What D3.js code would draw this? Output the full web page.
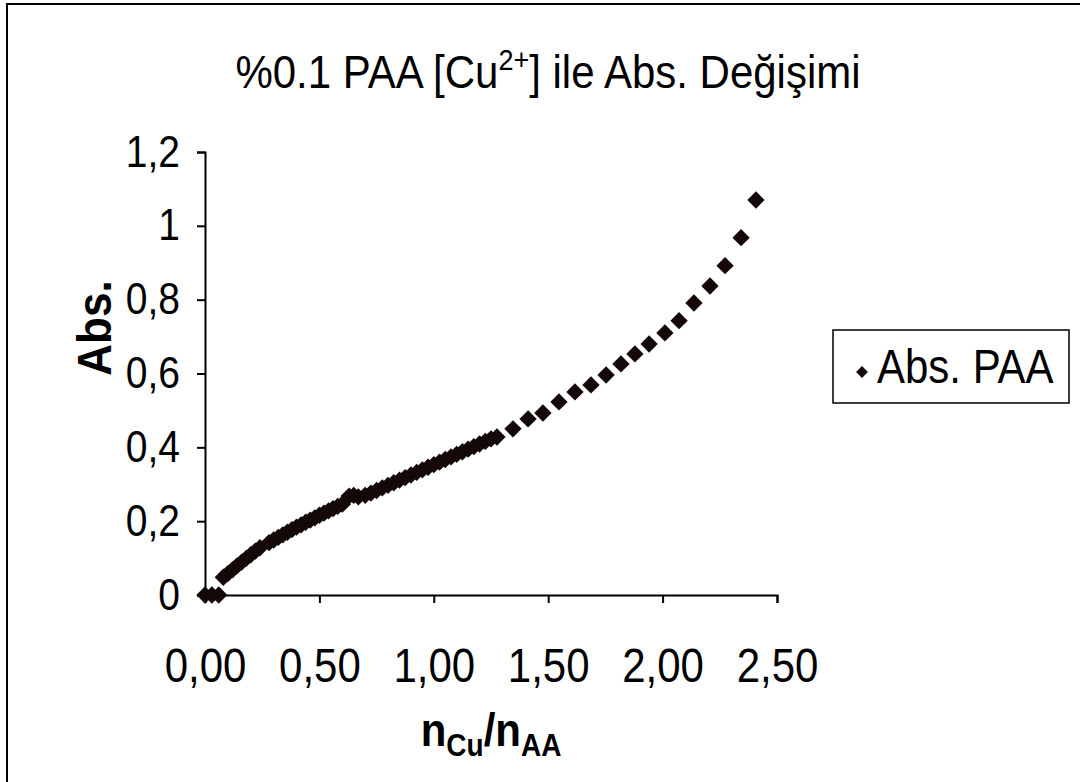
<!DOCTYPE html>
<html>
<head>
<meta charset="utf-8">
<script src="https://cdn.jsdelivr.net/npm/d3@7"></script>
<style>
  body { margin: 0; background: #fff; }
  text { font-family: Arial, "Liberation Sans", sans-serif; fill: #000; }
</style>
</head>
<body>
<div id="chart"></div>
<script>
// data (n_Cu/n_AA vs absorbance)
var ratio = [0, 0.03, 0.06,
  0.08, 0.10, 0.12, 0.14, 0.16, 0.18, 0.20, 0.22, 0.24,
  0.28, 0.30, 0.32, 0.34, 0.36, 0.38, 0.40, 0.42, 0.44, 0.46, 0.48, 0.50, 0.52, 0.54, 0.56, 0.58, 0.60,
  0.63, 0.65, 0.67, 0.70,
  0.725, 0.75, 0.775, 0.80, 0.825, 0.85, 0.875, 0.90, 0.925, 0.95, 0.975, 1.00, 1.025, 1.05, 1.075, 1.10, 1.125, 1.15, 1.175, 1.20, 1.225, 1.25,
  1.276, 1.346, 1.412, 1.477, 1.547, 1.617, 1.687, 1.753, 1.818, 1.879, 1.941, 2.010, 2.072, 2.137, 2.207, 2.273, 2.343, 2.408];
var absPAA = [0, 0, 0,
  0.048, 0.058, 0.068, 0.079, 0.089, 0.099, 0.109, 0.119, 0.128,
  0.142, 0.149, 0.156, 0.163, 0.170, 0.177, 0.184, 0.190, 0.197, 0.203, 0.209, 0.216, 0.222, 0.228, 0.234, 0.240, 0.246,
  0.268, 0.270, 0.266, 0.270,
  0.276, 0.283, 0.290, 0.297, 0.304, 0.311, 0.318, 0.325, 0.332, 0.339, 0.346, 0.353, 0.360, 0.367, 0.374, 0.381, 0.388, 0.395, 0.402, 0.409, 0.416, 0.423,
  0.428, 0.450, 0.477, 0.493, 0.523, 0.550, 0.569, 0.596, 0.626, 0.653, 0.680, 0.710, 0.743, 0.791, 0.837, 0.892, 0.968, 1.070];
var xTicks = [0, 0.5, 1, 1.5, 2, 2.5];
var yTicks = [0, 0.2, 0.4, 0.6, 0.8, 1, 1.2];
var seriesName = "Abs. PAA";

var W = 1080, H = 782;
var svg = d3.select("#chart").append("svg")
  .attr("width", W).attr("height", H);

// outer chart frame
svg.append("rect")
  .attr("x", 7).attr("y", 4)
  .attr("width", W + 10).attr("height", H + 10)
  .attr("fill", "none").attr("stroke", "#000").attr("stroke-width", 2);

var x = d3.scaleLinear().domain([0, 2.5]).range([205, 777]);
var y = d3.scaleLinear().domain([0, 1.2]).range([595, 152]);

function comma(d) { return d === 0 ? "0" : String(d).replace(".", ","); }

// the scan's lettering is a bit taller than plain Arial, so stretch it
var stretch = 1.13;

// title
var title = svg.append("text")
  .attr("transform", "translate(548,88) scale(1,1.08)")
  .attr("text-anchor", "middle")
  .attr("font-size", 42);
title.append("tspan").text("%0.1 PAA [Cu");
title.append("tspan").attr("font-size", 27).attr("dy", -17).text("2+");
title.append("tspan").attr("dy", 17).text("] ile Abs. Değişimi");

// axes
var xAxis = svg.append("g")
  .attr("transform", "translate(0," + y(0) + ")")
  .call(d3.axisBottom(x).tickValues(xTicks).tickSizeOuter(0).tickSize(8)
    .tickFormat(function(d) { return d.toFixed(2).replace(".", ","); }));
var yAxis = svg.append("g")
  .attr("transform", "translate(" + x(0) + ",0)")
  .call(d3.axisLeft(y).tickValues(yTicks).tickSizeOuter(0).tickSize(8).tickPadding(17)
    .tickFormat(comma));

[xAxis, yAxis].forEach(function(a) {
  a.select(".domain").attr("stroke", "#000").attr("stroke-width", 2);
  a.selectAll(".tick line").attr("stroke", "#000").attr("stroke-width", 2);
  a.selectAll(".tick text")
    .attr("font-family", "Arial, 'Liberation Sans', sans-serif")
    .attr("fill", "#000")
    .attr("transform", "scale(1," + stretch + ")");
});
xAxis.selectAll(".tick text").attr("font-size", 42).attr("dy", 0).attr("y", 87 / stretch);
yAxis.selectAll(".tick text").attr("font-size", 39);

// axis titles
svg.append("text")
  .attr("transform", "translate(111,328) rotate(-90) scale(1,1.1)")
  .attr("text-anchor", "middle")
  .attr("font-size", 44).attr("font-weight", "bold")
  .text("Abs.");

var xt = svg.append("text")
  .attr("transform", "translate(491,746) scale(1,1.1)")
  .attr("text-anchor", "middle")
  .attr("font-size", 42).attr("font-weight", "bold");
xt.append("tspan").text("n");
xt.append("tspan").attr("font-size", 28).attr("dy", 9).text("Cu");
xt.append("tspan").attr("dy", -9).text("/n");
xt.append("tspan").attr("font-size", 28).attr("dy", 9).text("AA");

// points
var pts = ratio.map(function(r, i) { return {x: r, y: absPAA[i]}; });
var diamond = d3.symbol().type(d3.symbolSquare).size(150);
svg.append("g").selectAll("path")
  .data(pts)
  .enter().append("path")
  .attr("d", diamond)
  .attr("fill", "#140808")
  .attr("transform", function(d) {
    return "translate(" + x(d.x) + "," + y(d.y) + ") rotate(45)";
  });

// legend
var lg = svg.append("g");
lg.append("rect")
  .attr("x", 833).attr("y", 330).attr("width", 236).attr("height", 73)
  .attr("fill", "#fff").attr("stroke", "#000").attr("stroke-width", 1.5);
lg.append("path")
  .attr("d", d3.symbol().type(d3.symbolSquare).size(70))
  .attr("fill", "#140808")
  .attr("transform", "translate(862,372) rotate(45)");
lg.append("text")
  .attr("transform", "translate(877,383) scale(1," + stretch + ")")
  .attr("font-size", 42)
  .text(seriesName);
</script>
</body>
</html>
